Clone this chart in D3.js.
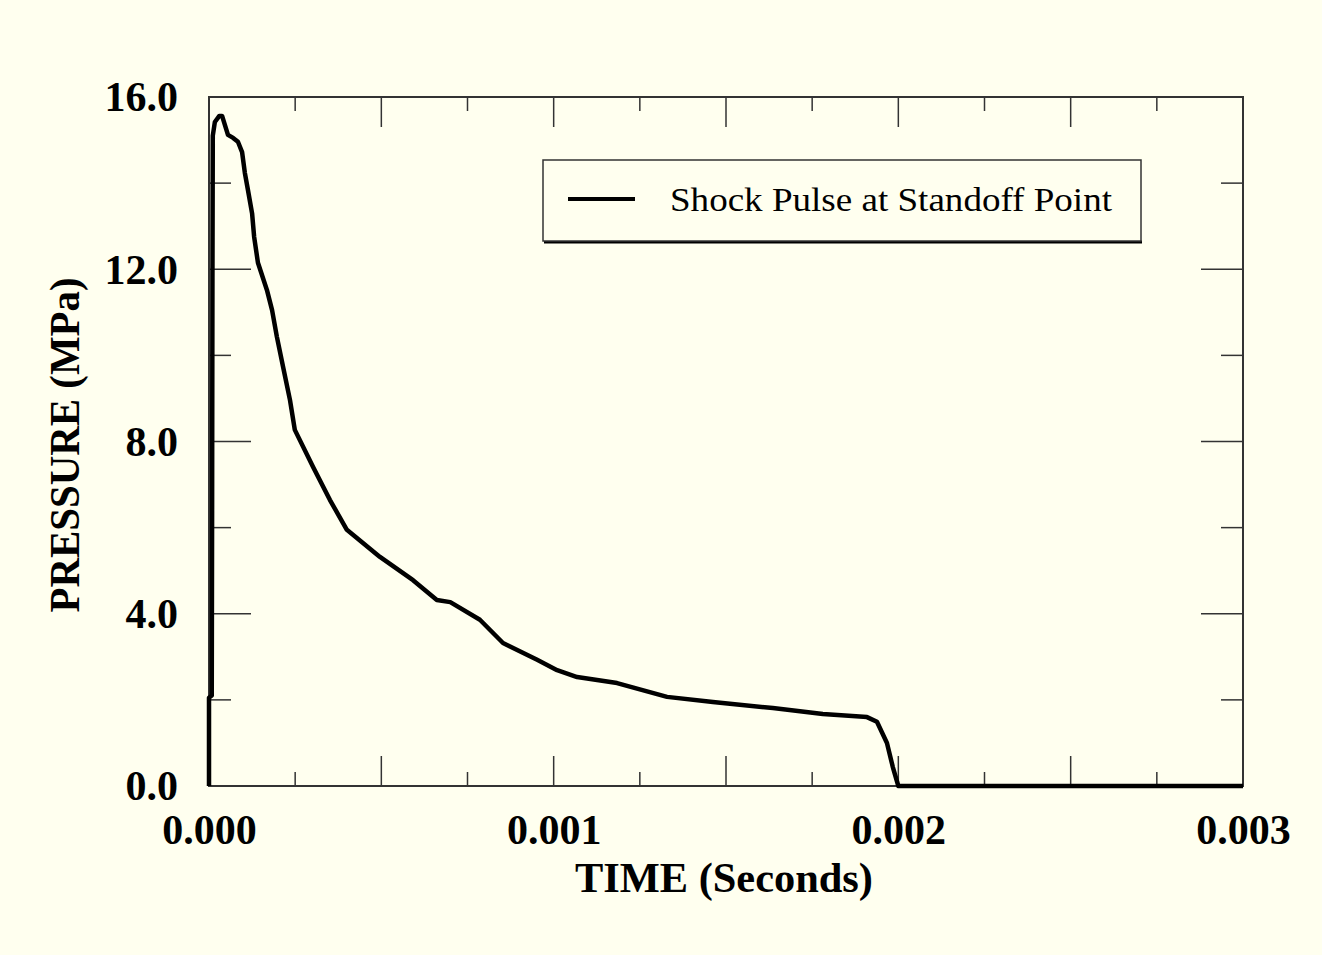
<!DOCTYPE html>
<html>
<head>
<meta charset="utf-8">
<script src="https://cdn.jsdelivr.net/npm/d3@7"></script>
<style>
  html, body { margin: 0; padding: 0; background: #FFFFEF; }
  svg { display: block; }
</style>
</head>
<body>
<svg id="chart" width="1322" height="955"></svg>
<script>
// ---- data ----
const timeValues = [0, 0, 0.000008, 0.000009, 0.00001, 0.000011, 0.000017, 0.00003, 0.000038,
  0.000055, 0.00007, 0.000084, 0.000096, 0.000104, 0.000113, 0.000125, 0.000131, 0.000142,
  0.000168, 0.000183, 0.000197, 0.000215, 0.000235, 0.000249, 0.000302, 0.000351, 0.0004,
  0.000496, 0.000592, 0.000661, 0.0007, 0.000786, 0.000853, 0.000952, 0.00101, 0.001068,
  0.001126, 0.001184, 0.001329, 0.001462, 0.001636, 0.001781, 0.001909, 0.001938, 0.001967,
  0.001984, 0.002, 0.003];
const pressureValues = [0, 2.05, 2.1, 6.4, 11.8, 15.1, 15.42, 15.56, 15.56,
  15.12, 15.05, 14.96, 14.72, 14.24, 13.84, 13.3, 12.75, 12.15,
  11.52, 11.05, 10.43, 9.73, 8.96, 8.27, 7.41, 6.64, 5.95,
  5.32, 4.78, 4.32, 4.27, 3.86, 3.32, 2.93, 2.69, 2.53,
  2.46, 2.39, 2.07, 1.95, 1.81, 1.67, 1.6, 1.49, 1.0,
  0.44, 0, 0];
const xTickLabels = ["0.000", "0.001", "0.002", "0.003"];
const xTickValues = [0, 0.001, 0.002, 0.003];
const yTickLabels = ["0.0", "4.0", "8.0", "12.0", "16.0"];
const yTickValues = [0, 4, 8, 12, 16];
const xMinorTicks = d3.range(0, 13).map(i => i * 0.00025);
const yMinorTicks = d3.range(0, 9).map(i => i * 2);
const seriesName = "Shock Pulse at Standoff Point";
const xTitle = "TIME (Seconds)";
const yTitle = "PRESSURE (MPa)";

// ---- layout ----
const svg = d3.select("#chart");
const L = 209, R = 1243, T = 97, B = 786;
const x = d3.scaleLinear().domain([0, 0.003]).range([L, R]);
const y = d3.scaleLinear().domain([0, 16]).range([B, T]);
const frameColor = "#333";
const serif = "'Liberation Serif', 'DejaVu Serif', serif";

svg.append("rect").attr("width", 1322).attr("height", 955).attr("fill", "#FFFFEF");

// ticks (inward, both sides)
const tickG = svg.append("g").attr("stroke", frameColor).attr("stroke-width", 1.5);
xMinorTicks.forEach((v, i) => {
  const len = (i % 2 === 0) ? 30 : 14;
  tickG.append("line").attr("x1", x(v)).attr("x2", x(v)).attr("y1", B).attr("y2", B - len);
  tickG.append("line").attr("x1", x(v)).attr("x2", x(v)).attr("y1", T).attr("y2", T + len);
});
yMinorTicks.forEach((v, i) => {
  const len = (i % 2 === 0) ? 42 : 22;
  tickG.append("line").attr("x1", L).attr("x2", L + len).attr("y1", y(v)).attr("y2", y(v));
  tickG.append("line").attr("x1", R).attr("x2", R - len).attr("y1", y(v)).attr("y2", y(v));
});

// frame
svg.append("rect").attr("x", L).attr("y", T).attr("width", R - L).attr("height", B - T)
  .attr("fill", "none").attr("stroke", frameColor).attr("stroke-width", 2);

// axes labels via d3 axis generators (text only)
const xAxis = d3.axisBottom(x).tickValues(xTickValues).tickFormat((d, i) => xTickLabels[i]).tickSize(0).tickPadding(0);
const gx = svg.append("g").attr("transform", `translate(0,${B})`).call(xAxis);
gx.select(".domain").remove();
gx.selectAll("text").attr("font-family", serif).attr("font-weight", "bold").attr("font-size", 42)
  .attr("fill", "#000").attr("dy", null).attr("y", 58);

const yAxis = d3.axisLeft(y).tickValues(yTickValues).tickFormat((d, i) => yTickLabels[i]).tickSize(0).tickPadding(0);
const gy = svg.append("g").attr("transform", `translate(${L - 31},0)`).call(yAxis);
gy.select(".domain").remove();
gy.selectAll("text").attr("font-family", serif).attr("font-weight", "bold").attr("font-size", 42)
  .attr("fill", "#000").attr("dy", "0.33em").attr("x", 0);

// axis titles
svg.append("text").attr("x", 724).attr("y", 892).attr("text-anchor", "middle")
  .attr("font-family", serif).attr("font-weight", "bold").attr("font-size", 42)
  .attr("textLength", 298).attr("lengthAdjust", "spacingAndGlyphs").text(xTitle);
svg.append("text").attr("transform", "translate(79,445) rotate(-90)").attr("text-anchor", "middle")
  .attr("font-family", serif).attr("font-weight", "bold").attr("font-size", 42)
  .attr("textLength", 335).attr("lengthAdjust", "spacingAndGlyphs").text(yTitle);

// data line
const pts = timeValues.map((t, i) => [t, pressureValues[i]]);
const line = d3.line().x(d => x(d[0])).y(d => y(d[1]));
svg.append("path").datum(pts).attr("d", line).attr("fill", "none")
  .attr("stroke", "#000").attr("stroke-width", 4.5).attr("stroke-linejoin", "round");

// legend
const lg = svg.append("g");
lg.append("line").attr("x1", 544).attr("x2", 1142).attr("y1", 242).attr("y2", 242)
  .attr("stroke", "#000").attr("stroke-width", 3);
lg.append("rect").attr("x", 543).attr("y", 160).attr("width", 598).attr("height", 81)
  .attr("fill", "#FFFFEF").attr("stroke", frameColor).attr("stroke-width", 1.5);
lg.append("line").attr("x1", 568).attr("x2", 635).attr("y1", 199).attr("y2", 199)
  .attr("stroke", "#000").attr("stroke-width", 4);
lg.append("text").attr("x", 670).attr("y", 211).attr("font-family", serif).attr("font-size", 33)
  .attr("textLength", 442).attr("lengthAdjust", "spacingAndGlyphs").text(seriesName);
</script>
</body>
</html>
